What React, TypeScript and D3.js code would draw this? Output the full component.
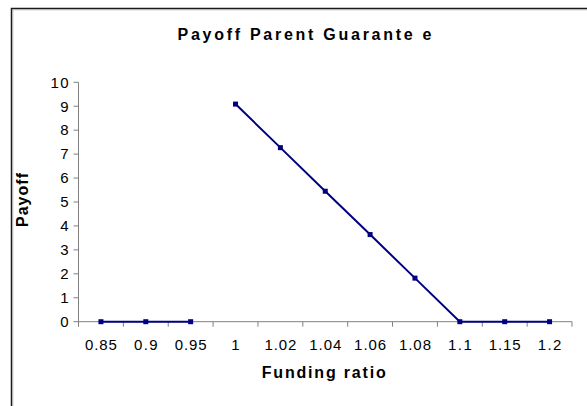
import React from "react";
import * as d3 from "d3";

const categories = ["0.85", "0.9", "0.95", "1", "1.02", "1.04", "1.06", "1.08", "1.1", "1.15", "1.2"];
const payoffBelowPar: (number | null)[] = [0, 0, 0, null, null, null, null, null, null, null, null];
const payoffAbovePar: (number | null)[] = [null, null, null, 9.09, 7.27, 5.45, 3.64, 1.82, 0, 0, 0];
const yTicks = [0, 1, 2, 3, 4, 5, 6, 7, 8, 9, 10];
const title = "Payoff Parent Guarante e";
const xTitle = "Funding ratio";
const yTitle = "Payoff";

const W = 587;
const H = 406;
const plotLeft = 78.5;
const plotRight = 572;
const plotTop = 82.3;
const plotBottom = 321.7;
const navy = "#000080";
const axisColor = "#808080";
const font = "'Liberation Sans', Arial, sans-serif";

export default function App() {
  const x = d3.scaleBand<string>().domain(categories).range([plotLeft, plotRight]).padding(0);
  const y = d3.scaleLinear().domain([0, 10]).range([plotBottom, plotTop]);
  const cx = (c: string) => (x(c) as number) + x.bandwidth() / 2;

  const line = d3
    .line<number | null>()
    .defined((d) => d != null)
    .x((_, i) => cx(categories[i]))
    .y((d) => y(d as number));

  const boundaries = categories.map((c) => x(c) as number).concat([plotRight]);
  const series = [payoffBelowPar, payoffAbovePar];

  return (
    <svg
      width={W}
      height={H}
      style={{ position: "absolute", left: 0, top: 0, background: "#fff" }}
    >
      <rect x={0} y={0} width={W} height={H} fill="#fff" />
      {/* chart border */}
      <path d={`M11.5,${H + 5} V8.5 H${W + 5}`} fill="none" stroke="#1a1a1a" strokeWidth={1.5} />
      <path d={`M12.8,${H + 5} V9.8 H${W + 5}`} fill="none" stroke="#aaa" strokeWidth={0.8} />

      {/* title */}
      <text
        x={304.5}
        y={40}
        textAnchor="middle"
        fontFamily={font}
        fontWeight="bold"
        fontSize={16}
        textLength={254}
        lengthAdjust="spacing"
        fill="#000"
      >
        {title}
      </text>

      {/* y axis */}
      <line x1={plotLeft} x2={plotLeft} y1={plotTop} y2={plotBottom} stroke={axisColor} strokeWidth={1} />
      {yTicks.map((t) => (
        <text
          key={"l" + t}
          x={68.5}
          y={y(t) + 5.3}
          textAnchor="end"
          fontFamily={font}
          fontSize={15}
          fill="#000"
        >
          {String(t).split("").join("\u200A")}
        </text>
      ))}
      {yTicks.map((t) => (
        <line key={"t" + t} x1={plotLeft - 5} x2={plotLeft} y1={y(t)} y2={y(t)} stroke={axisColor} strokeWidth={1} />
      ))}

      {/* x axis */}
      <line x1={plotLeft} x2={plotRight} y1={plotBottom} y2={plotBottom} stroke={axisColor} strokeWidth={1} />
      {boundaries.map((b, i) => (
        <line key={i} x1={b} x2={b} y1={plotBottom} y2={plotBottom + 5} stroke={axisColor} strokeWidth={1} />
      ))}
      {categories.map((c) => (
        <text
          key={c}
          x={cx(c)}
          y={350}
          textAnchor="middle"
          fontFamily={font}
          fontSize={15}
          textLength={c.length > 1 ? c.length * 8.2 - 0.8 : undefined}
          lengthAdjust="spacing"
          fill="#000"
        >
          {c}
        </text>
      ))}

      {/* axis titles */}
      <text
        x={323.7}
        y={378}
        textAnchor="middle"
        fontFamily={font}
        fontWeight="bold"
        fontSize={16}
        textLength={124}
        lengthAdjust="spacing"
        fill="#000"
      >
        {xTitle}
      </text>
      <text
        transform={`translate(27.5,200) rotate(-90)`}
        textAnchor="middle"
        fontFamily={font}
        fontWeight="bold"
        fontSize={16}
        textLength={54}
        lengthAdjust="spacing"
        fill="#000"
      >
        {yTitle}
      </text>

      {/* series */}
      {series.map((s, si) => (
        <g key={si}>
          <path d={line(s) || ""} fill="none" stroke={navy} strokeWidth={2} />
          {s.map((v, i) =>
            v == null ? null : (
              <rect
                key={i}
                x={cx(categories[i]) - 2.5}
                y={y(v) - 2.5}
                width={5}
                height={5}
                fill={navy}
              />
            )
          )}
        </g>
      ))}
    </svg>
  );
}
